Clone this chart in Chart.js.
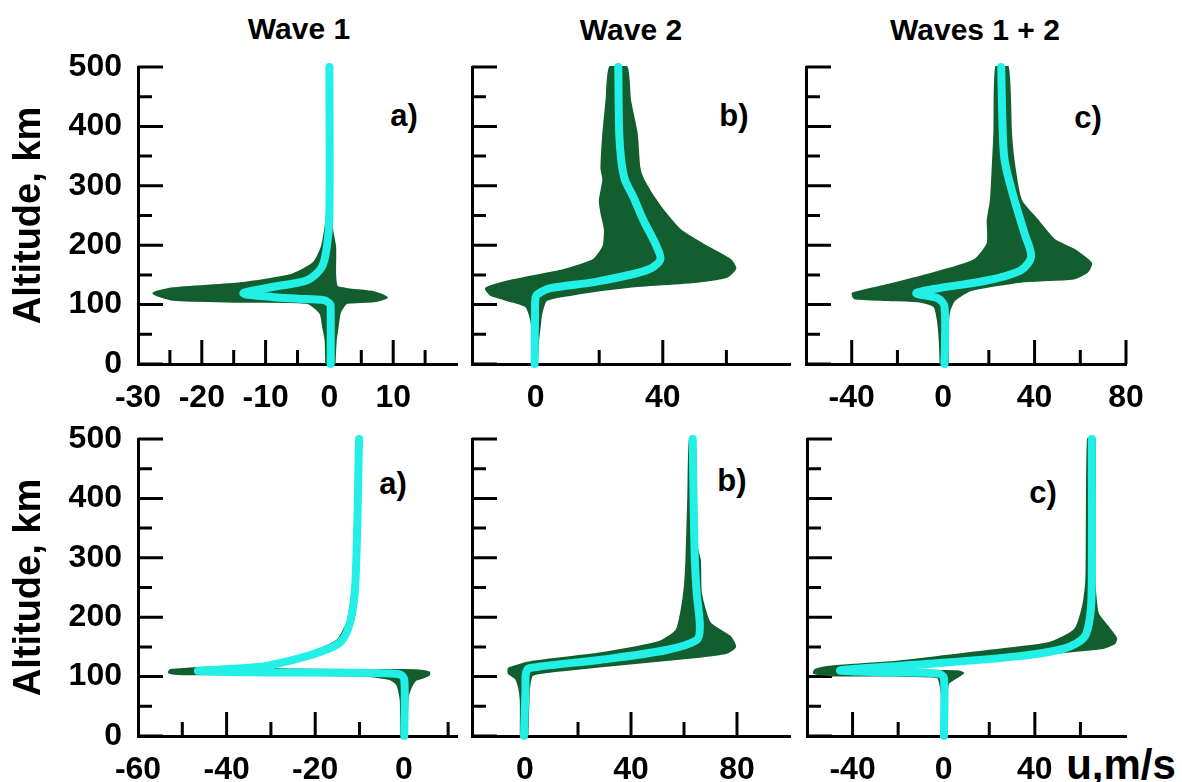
<!DOCTYPE html>
<html>
<head>
<meta charset="utf-8">
<script src="https://cdn.jsdelivr.net/npm/chart.js@4.4.1/dist/chart.umd.min.js"></script>
<style>
  body { margin: 0; background: #fff; }
  #wrap { position: relative; width: 1182px; height: 782px; overflow: hidden;
          font-family: 'Liberation Sans', Arial, sans-serif; font-weight: bold; color: #000; }
  #wrap canvas { position: absolute; }
  .lbl { position: absolute; transform: translate(-50%, -50%); white-space: nowrap; line-height: 1; }
</style>
</head>
<body>
<div id="wrap">
  <div class="lbl" style="left:299px; top:29px; font-size:30px;">Wave 1</div>
  <div class="lbl" style="left:631px; top:30px; font-size:30px;">Wave 2</div>
  <div class="lbl" style="left:975px; top:30px; font-size:30px;">Waves 1 + 2</div>
  <div class="lbl" style="left:404px; top:115px; font-size:31px;">a)</div>
  <div class="lbl" style="left:734px; top:115px; font-size:31px;">b)</div>
  <div class="lbl" style="left:1088px; top:117px; font-size:31px;">c)</div>
  <div class="lbl" style="left:393px; top:483px; font-size:31px;">a)</div>
  <div class="lbl" style="left:732px; top:480px; font-size:31px;">b)</div>
  <div class="lbl" style="left:1043px; top:492px; font-size:31px;">c)</div>
  <div class="lbl" style="left:1121px; top:765px; font-size:42px;">u,m/s</div>
</div>
<script>
// altitude axis (km)
const altMajor = [0, 100, 200, 300, 400, 500];
const altMinor = [50, 150, 250, 350, 450];
const altLabels = [0, 100, 200, 300, 400, 500];

// profiles are [u (m/s), altitude (km)]
// upper row, wave 1
const meanA1 = [[0.2,0],[0.2,95],[0.1,101],[-0.9,107.5],[-5,110],[-8.8,112.5],[-13.5,119],[-8.8,130],
  [-3.5,141],[-1.2,163],[-0.4,197],[0,250],[0,500]];
const bandA1 = [[0.8,0],[1.0,40],[1.3,63],[1.6,85],[2.2,97],[2.8,103],[7,105.5],[9,112],[7,121],[3,126],
  [1.2,130],[0.9,150],[0.9,197],[0.4,230],[0.3,500],
  [-0.3,500],[-0.4,250],[-1.2,197],[-2.5,170],[-6,150],[-14,136],[-24.5,127.5],[-27.6,119],
  [-24.5,108],[-14,105],[-3.5,103],[-1.4,85],[-1.0,63],[-0.6,40],[-0.5,0]];

// upper row, wave 2
const meanB1 = [[-0.3,0],[-0.2,80],[0,112],[1,119],[4.4,127.4],[19.2,138.6],[35,158],[39.2,175],
  [38.1,197.5],[33.9,242],[30.7,281.6],[28.1,310],[27,340],[26.3,388],[26,500]];
const bandB1 = [[0.4,0],[0.8,40],[1.3,63],[1.8,85],[3.4,107.7],[13.9,119],[29.7,130],[50.7,138.6],
  [60.2,147],[62.8,161],[61.3,175],[53.9,197.5],[45.5,225.6],[39.2,265],[33.9,310],[32.6,332],
  [31.8,388],[29.7,444],[28.6,500],
  [23.4,500],[22.3,444],[21.3,388],[20.7,330],[21.3,310],[20.2,276],[20.7,254],[21.8,226],
  [21.3,197.5],[18.1,175],[8.6,158],[-7.2,141],[-15.6,127.4],[-14,116],[-7.2,105],[-2.9,96.5],
  [-1.4,74],[-0.8,40],[-0.8,0]];

// upper row, waves 1 + 2
const meanC1 = [[0.6,0],[0.6,96.5],[-2.3,110.6],[-11.8,119],[-2.3,127.4],[19.5,141],[34,158],
  [38.5,180.6],[35.6,220],[31.2,276],[27,340],[26.1,388],[25.4,500]];
const bandC1 = [[2.0,0],[2.0,64],[2.8,91],[5,107.7],[12.2,124.6],[34,138.6],[57,144],[63,155],
  [64.7,169.5],[57.4,192],[48.6,209],[41.3,242],[34,276],[31.2,332],[29.7,388],[28.3,500],
  [23.2,500],[22.4,388],[21.7,332],[20.9,276],[19.5,242],[19.5,203],[13.7,175],[-2.3,155],
  [-24.2,133],[-39.5,119],[-38.8,110.6],[-24.2,107.7],[-9.6,104.9],[-3.8,96.5],[-2.3,73],
  [-1.5,40],[-1.1,0]];

// lower row, wave 1
const meanA2 = [[0.1,0],[0.1,95],[-1,104],[-15,106.5],[-31,107],[-46.5,109.5],[-33,116],[-25.6,127],
  [-19.5,140],[-14.3,158],[-12,195],[-10.9,263],[-10.1,500]];
const bandA2 = [[0.6,0],[0.8,60],[1.3,77],[2.6,94],[4.5,99],[5.7,103],[5.7,107],[4,110],[0,111],
  [-20,111.5],[-34,114],[-31,117],[-24,128],[-18.5,142],[-13.5,161],[-11.4,195],[-10.4,262],[-9.7,500],
  [-10.5,500],[-11.4,262],[-12.6,195],[-15,161],[-20.5,142],[-27,128],[-35,117],[-45,115],
  [-52.7,111],[-53,107],[-50,104],[-40,104],[-20,103],[-8,101],[-4,97],[-2.7,94],[-1.4,85],
  [-0.7,60],[-0.6,0]];

// lower row, wave 2
const meanB2 = [[-0.4,0],[0.2,80],[0.3,104],[1.5,114],[28.1,128],[53.4,144.8],[64.8,161.6],[66,184],
  [64.8,240],[64.1,296],[63.6,400],[63.3,500]];
const bandB2 = [[0.9,0],[1.3,60],[1.6,83],[2.8,102.7],[15.4,111],[40.7,122.4],[66,133.5],[76.1,140],
  [79.3,150],[77.4,167],[69.8,190],[66.4,240],[66,296],[64.8,318],[64.1,500],
  [62.2,500],[61.6,400],[60.9,296],[60.3,251],[59.1,212],[57.2,178.5],[50.9,158.8],[28.1,139],
  [2.8,125],[-6.1,114],[-6.1,105.5],[-3.5,97],[-2.3,83],[-1.6,60],[-1.6,0]];

// lower row, waves 1 + 2
const meanC2 = [[0.1,0],[0.1,97.6],[-2.3,105],[-27.1,107.2],[-45.4,110.6],[-12.5,120],[31.2,133.6],
  [53.1,147.6],[61.8,167],[64.4,206.6],[65,262.6],[65,500]];
const bandC2 = [[1.0,0],[1.3,67],[2.0,89],[6.4,100.5],[8.6,106],[6,109],[0,109.5],[-15,109.5],
  [-30,110.5],[-28,113],[-15,116],[-5.2,118],[16.6,128],[45.8,139],[69.1,147.6],[74.9,156],
  [75.7,164.5],[72,184],[67.6,206.6],[66.2,262.6],[66.2,500],
  [63.3,500],[62.6,262.6],[61.1,217.8],[57.4,178.5],[45.8,156],[16.6,142],[-19.8,125.3],[-49,117],
  [-56.3,111.7],[-57,106],[-49,102],[-25,102],[-5,100],[-2.3,97.6],[-0.9,72],[-0.9,0]];

// u axes: range, tick marks and tick labels
const xRangeA1 = [-30, 20], xMajorA1 = [-20, -10, 0, 10], xMinorA1 = [-25, -15, -5, 5, 15], xLabelsA1 = [-30, -20, -10, 0, 10];
const xRangeB1 = [-20, 80], xMajorB1 = [0, 40], xMinorB1 = [20, 60], xLabelsB1 = [0, 40];
const xRangeC1 = [-60, 80], xMajorC1 = [-40, 0, 40, 80], xMinorC1 = [-20, 20, 60], xLabelsC1 = [-40, 0, 40, 80];
const xRangeA2 = [-60, 12], xMajorA2 = [-40, -20, 0], xMinorA2 = [-50, -30, -10, 10], xLabelsA2 = [-60, -40, -20, 0];
const xRangeB2 = [-20, 100], xMajorB2 = [0, 40, 80], xMinorB2 = [20, 60], xLabelsB2 = [0, 40, 80];
const xRangeC2 = [-60, 80], xMajorC2 = [-40, 0, 40], xMinorC2 = [-20, 20, 60], xLabelsC2 = [-40, 0, 40];

const GREEN = '#135e2e';
const CYAN = '#22f0e6';
const FONT = "'Liberation Sans', Arial, sans-serif";

// where each plot area sits on the page (left, right, top, bottom of the axes)
const panels = [
  { id: 'a1', box: [138, 457, 67, 364], mean: meanA1, band: bandA1, range: xRangeA1, major: xMajorA1, minor: xMinorA1, labels: xLabelsA1, left: true },
  { id: 'b1', box: [472, 790, 67, 364], mean: meanB1, band: bandB1, range: xRangeB1, major: xMajorB1, minor: xMinorB1, labels: xLabelsB1 },
  { id: 'c1', box: [806, 1126, 67, 364], mean: meanC1, band: bandC1, range: xRangeC1, major: xMajorC1, minor: xMinorC1, labels: xLabelsC1 },
  { id: 'a2', box: [138, 457, 439, 736], mean: meanA2, band: bandA2, range: xRangeA2, major: xMajorA2, minor: xMinorA2, labels: xLabelsA2, left: true },
  { id: 'b2', box: [472, 790, 439, 736], mean: meanB2, band: bandB2, range: xRangeB2, major: xMajorB2, minor: xMinorB2, labels: xLabelsB2 },
  { id: 'c2', box: [807, 1126, 439, 736], mean: meanC2, band: bandC2, range: xRangeC2, major: xMajorC2, minor: xMinorC2, labels: xLabelsC2 }
];

const PAD_TOP = 20, PAD_RIGHT = 25, X_H = 50;

// tick marks pointing into the plot, long for major and short for minor
function innerTicks(p) {
  return {
    id: 'innerTicks',
    beforeDatasetsDraw(chart) {
      const { ctx, chartArea: a, scales: { x, y } } = chart;
      ctx.save();
      ctx.strokeStyle = '#000';
      ctx.lineWidth = 3;
      ctx.beginPath();
      altMajor.forEach(v => { const py = y.getPixelForValue(v); ctx.moveTo(a.left, py); ctx.lineTo(a.left + 25, py); });
      altMinor.forEach(v => { const py = y.getPixelForValue(v); ctx.moveTo(a.left, py); ctx.lineTo(a.left + 14, py); });
      p.major.forEach(v => { const px = x.getPixelForValue(v); ctx.moveTo(px, a.bottom); ctx.lineTo(px, a.bottom - 24); });
      p.minor.forEach(v => { const px = x.getPixelForValue(v); ctx.moveTo(px, a.bottom); ctx.lineTo(px, a.bottom - 14); });
      ctx.stroke();
      ctx.restore();
    }
  };
}

// keep the label overhang from moving the plot area
function noOverhang(s) {
  s.paddingTop = 0; s.paddingBottom = 0; s.paddingLeft = 0; s.paddingRight = 0;
}

const tickFont = { family: FONT, size: 32, weight: 'bold' };
const wrap = document.getElementById('wrap');

panels.forEach(p => {
  const [l, r, t, b] = p.box;
  const yw = p.left ? l : 20;
  const cv = document.createElement('canvas');
  cv.width = r - l + yw + PAD_RIGHT;
  cv.height = b - t + PAD_TOP + X_H;
  cv.style.left = (l - yw) + 'px';
  cv.style.top = (t - PAD_TOP) + 'px';
  wrap.appendChild(cv);

  new Chart(cv, {
    type: 'line',
    data: {
      datasets: [
        {
          data: p.mean.map(([u, a]) => ({ x: u, y: a })),
          borderColor: CYAN, borderWidth: 8, tension: 0.3,
          borderCapStyle: 'round', borderJoinStyle: 'round',
          pointRadius: 0, fill: false, order: 0, clip: false
        },
        {
          data: p.band.map(([u, a]) => ({ x: u, y: a })),
          borderColor: GREEN, backgroundColor: GREEN, borderWidth: 2, tension: 0.2,
          pointRadius: 0, fill: 'shape', order: 1, clip: false
        }
      ]
    },
    options: {
      responsive: false,
      animation: false,
      events: [],
      layout: { padding: { top: PAD_TOP, right: PAD_RIGHT, left: 0, bottom: 0 } },
      plugins: { legend: { display: false }, tooltip: { enabled: false } },
      scales: {
        x: {
          type: 'linear', min: p.range[0], max: p.range[1],
          grid: { display: false, drawTicks: false },
          border: { display: true, color: '#000', width: 3 },
          afterBuildTicks: s => { s.ticks = p.labels.map(v => ({ value: v })); },
          afterFit: s => { s.height = X_H; noOverhang(s); },
          ticks: { color: '#000', font: tickFont, padding: 15, maxRotation: 0, minRotation: 0, autoSkip: false, callback: v => v }
        },
        y: {
          type: 'linear', min: 0, max: 500,
          grid: { display: false, drawTicks: false },
          border: { display: true, color: '#000', width: 3 },
          afterBuildTicks: s => { s.ticks = altLabels.map(v => ({ value: v })); },
          afterFit: s => { s.width = yw; noOverhang(s); },
          title: {
            display: !!p.left, text: 'Altitude, km', color: '#000',
            font: { family: FONT, size: 38, weight: 'bold' }, padding: { top: 7, bottom: 0 }
          },
          ticks: { display: !!p.left, color: '#000', font: tickFont, padding: 16, autoSkip: false, callback: v => v }
        }
      }
    },
    plugins: [innerTicks(p)]
  });
});
</script>
</body>
</html>
